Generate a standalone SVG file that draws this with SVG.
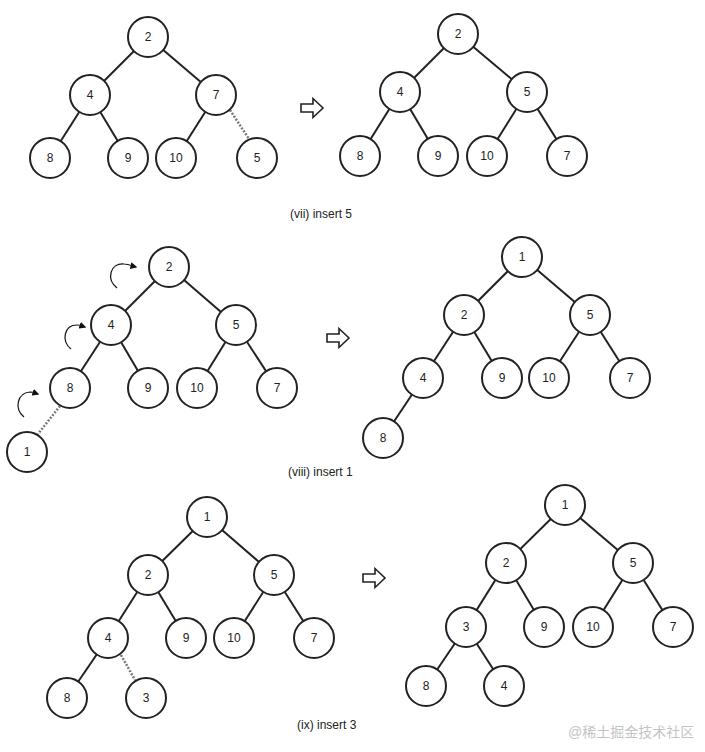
<svg xmlns="http://www.w3.org/2000/svg" width="705" height="752" viewBox="0 0 705 752">
<style>
.n circle{fill:#fff;stroke:#222;stroke-width:2}
.n text{font-family:"Liberation Sans",Arial,sans-serif;font-size:12px;fill:#222;text-anchor:middle;dominant-baseline:central}
.e line{stroke:#222;stroke-width:2}
.e line.d{stroke:#777;stroke-width:2.5;stroke-dasharray:2 1.5}
.cap{font-family:"Liberation Sans",Arial,sans-serif;font-size:12px;fill:#222}
.ha{fill:#fff;stroke:#222;stroke-width:1.6;stroke-linejoin:miter}
.ca{fill:none;stroke:#111;stroke-width:1.2}
</style>
<defs>
<marker id="ah" viewBox="0 0 10 10" refX="8" refY="5" markerWidth="7" markerHeight="7" markerUnits="userSpaceOnUse" orient="auto">
<path d="M0,0 L10,5 L0,10 z" fill="#111"/>
</marker>
<polygon id="bigarrow" points="0,-4 12,-4 12,-9.5 22,0 12,9.5 12,4 0,4"/>
</defs>
<rect width="705" height="752" fill="#fff"/>

<g id="connectors" class="e">
<!-- panel 1 left -->
<line x1="148" y1="37" x2="90" y2="95"/>
<line x1="148" y1="37" x2="216" y2="95"/>
<line x1="90" y1="95" x2="50" y2="158"/>
<line x1="90" y1="95" x2="128" y2="158"/>
<line x1="216" y1="95" x2="176" y2="158"/>
<line class="d" x1="230" y1="110" x2="249" y2="139"/>
<!-- panel 1 right -->
<line x1="458" y1="34" x2="400" y2="92"/>
<line x1="458" y1="34" x2="527" y2="92"/>
<line x1="400" y1="92" x2="360" y2="156"/>
<line x1="400" y1="92" x2="438" y2="156"/>
<line x1="527" y1="92" x2="487" y2="156"/>
<line x1="527" y1="92" x2="567" y2="156"/>
<!-- panel 2 left -->
<line x1="169" y1="267" x2="111" y2="325"/>
<line x1="169" y1="267" x2="236" y2="325"/>
<line x1="111" y1="325" x2="70" y2="388"/>
<line x1="111" y1="325" x2="148" y2="388"/>
<line x1="236" y1="325" x2="197" y2="388"/>
<line x1="236" y1="325" x2="277" y2="388"/>
<line class="d" x1="60" y1="406" x2="38" y2="434"/>
<!-- panel 2 right -->
<line x1="522" y1="257" x2="464" y2="315"/>
<line x1="522" y1="257" x2="590" y2="315"/>
<line x1="464" y1="315" x2="423" y2="378"/>
<line x1="464" y1="315" x2="502" y2="378"/>
<line x1="590" y1="315" x2="549" y2="378"/>
<line x1="590" y1="315" x2="630" y2="378"/>
<line x1="423" y1="378" x2="383" y2="438"/>
<!-- panel 3 left -->
<line x1="207" y1="517" x2="148" y2="575"/>
<line x1="207" y1="517" x2="274" y2="575"/>
<line x1="148" y1="575" x2="108" y2="638"/>
<line x1="148" y1="575" x2="186" y2="638"/>
<line x1="274" y1="575" x2="234" y2="638"/>
<line x1="274" y1="575" x2="314" y2="638"/>
<line x1="108" y1="638" x2="67" y2="698"/>
<line class="d" x1="121" y1="655" x2="135" y2="680"/>
<!-- panel 3 right -->
<line x1="565" y1="505" x2="506" y2="563"/>
<line x1="565" y1="505" x2="633" y2="563"/>
<line x1="506" y1="563" x2="466" y2="627"/>
<line x1="506" y1="563" x2="544" y2="627"/>
<line x1="633" y1="563" x2="593" y2="627"/>
<line x1="633" y1="563" x2="673" y2="627"/>
<line x1="466" y1="627" x2="426" y2="686"/>
<line x1="466" y1="627" x2="504" y2="686"/>
</g>

<!-- panel 1 left nodes -->
<g id="p1l-2" class="n"><circle cx="148" cy="37" r="20"/><text x="148" y="37">2</text></g>
<g id="p1l-4" class="n"><circle cx="90" cy="95" r="20"/><text x="90" y="95">4</text></g>
<g id="p1l-7" class="n"><circle cx="216" cy="95" r="20"/><text x="216" y="95">7</text></g>
<g id="p1l-8" class="n"><circle cx="50" cy="158" r="20"/><text x="50" y="158">8</text></g>
<g id="p1l-9" class="n"><circle cx="128" cy="158" r="20"/><text x="128" y="158">9</text></g>
<g id="p1l-10" class="n"><circle cx="176" cy="158" r="20"/><text x="176" y="158">10</text></g>
<g id="p1l-5" class="n"><circle cx="257" cy="158" r="20"/><text x="257" y="158">5</text></g>

<!-- panel 1 right nodes -->
<g id="p1r-2" class="n"><circle cx="458" cy="34" r="20"/><text x="458" y="34">2</text></g>
<g id="p1r-4" class="n"><circle cx="400" cy="92" r="20"/><text x="400" y="92">4</text></g>
<g id="p1r-5" class="n"><circle cx="527" cy="92" r="20"/><text x="527" y="92">5</text></g>
<g id="p1r-8" class="n"><circle cx="360" cy="156" r="20"/><text x="360" y="156">8</text></g>
<g id="p1r-9" class="n"><circle cx="438" cy="156" r="20"/><text x="438" y="156">9</text></g>
<g id="p1r-10" class="n"><circle cx="487" cy="156" r="20"/><text x="487" y="156">10</text></g>
<g id="p1r-7" class="n"><circle cx="567" cy="156" r="20"/><text x="567" y="156">7</text></g>

<!-- panel 2 left nodes -->
<g id="p2l-2" class="n"><circle cx="169" cy="267" r="20"/><text x="169" y="267">2</text></g>
<g id="p2l-4" class="n"><circle cx="111" cy="325" r="20"/><text x="111" y="325">4</text></g>
<g id="p2l-5" class="n"><circle cx="236" cy="325" r="20"/><text x="236" y="325">5</text></g>
<g id="p2l-8" class="n"><circle cx="70" cy="388" r="20"/><text x="70" y="388">8</text></g>
<g id="p2l-9" class="n"><circle cx="148" cy="388" r="20"/><text x="148" y="388">9</text></g>
<g id="p2l-10" class="n"><circle cx="197" cy="388" r="20"/><text x="197" y="388">10</text></g>
<g id="p2l-7" class="n"><circle cx="277" cy="388" r="20"/><text x="277" y="388">7</text></g>
<g id="p2l-1" class="n"><circle cx="27" cy="452" r="20"/><text x="27" y="452">1</text></g>

<!-- panel 2 right nodes -->
<g id="p2r-1" class="n"><circle cx="522" cy="257" r="20"/><text x="522" y="257">1</text></g>
<g id="p2r-2" class="n"><circle cx="464" cy="315" r="20"/><text x="464" y="315">2</text></g>
<g id="p2r-5" class="n"><circle cx="590" cy="315" r="20"/><text x="590" y="315">5</text></g>
<g id="p2r-4" class="n"><circle cx="423" cy="378" r="20"/><text x="423" y="378">4</text></g>
<g id="p2r-9" class="n"><circle cx="502" cy="378" r="20"/><text x="502" y="378">9</text></g>
<g id="p2r-10" class="n"><circle cx="549" cy="378" r="20"/><text x="549" y="378">10</text></g>
<g id="p2r-7" class="n"><circle cx="630" cy="378" r="20"/><text x="630" y="378">7</text></g>
<g id="p2r-8" class="n"><circle cx="383" cy="438" r="20"/><text x="383" y="438">8</text></g>

<!-- panel 3 left nodes -->
<g id="p3l-1" class="n"><circle cx="207" cy="517" r="20"/><text x="207" y="517">1</text></g>
<g id="p3l-2" class="n"><circle cx="148" cy="575" r="20"/><text x="148" y="575">2</text></g>
<g id="p3l-5" class="n"><circle cx="274" cy="575" r="20"/><text x="274" y="575">5</text></g>
<g id="p3l-4" class="n"><circle cx="108" cy="638" r="20"/><text x="108" y="638">4</text></g>
<g id="p3l-9" class="n"><circle cx="186" cy="638" r="20"/><text x="186" y="638">9</text></g>
<g id="p3l-10" class="n"><circle cx="234" cy="638" r="20"/><text x="234" y="638">10</text></g>
<g id="p3l-7" class="n"><circle cx="314" cy="638" r="20"/><text x="314" y="638">7</text></g>
<g id="p3l-8" class="n"><circle cx="67" cy="698" r="20"/><text x="67" y="698">8</text></g>
<g id="p3l-3" class="n"><circle cx="146" cy="698" r="20"/><text x="146" y="698">3</text></g>

<!-- panel 3 right nodes -->
<g id="p3r-1" class="n"><circle cx="565" cy="505" r="20"/><text x="565" y="505">1</text></g>
<g id="p3r-2" class="n"><circle cx="506" cy="563" r="20"/><text x="506" y="563">2</text></g>
<g id="p3r-5" class="n"><circle cx="633" cy="563" r="20"/><text x="633" y="563">5</text></g>
<g id="p3r-3" class="n"><circle cx="466" cy="627" r="20"/><text x="466" y="627">3</text></g>
<g id="p3r-9" class="n"><circle cx="544" cy="627" r="20"/><text x="544" y="627">9</text></g>
<g id="p3r-10" class="n"><circle cx="593" cy="627" r="20"/><text x="593" y="627">10</text></g>
<g id="p3r-7" class="n"><circle cx="673" cy="627" r="20"/><text x="673" y="627">7</text></g>
<g id="p3r-8" class="n"><circle cx="426" cy="686" r="20"/><text x="426" y="686">8</text></g>
<g id="p3r-4" class="n"><circle cx="504" cy="686" r="20"/><text x="504" y="686">4</text></g>

<!-- transition arrows -->
<g id="arrows">
<use href="#bigarrow" class="ha" x="301" y="108"/>
<use href="#bigarrow" class="ha" x="327" y="338"/>
<use href="#bigarrow" class="ha" x="363" y="578"/>
</g>

<!-- curved swap arrows -->
<g id="swaps">
<path class="ca" d="M117,288 C106,279 110,263 124,264 C129,264 132,266 136,267" marker-end="url(#ah)"/>
<path class="ca" d="M71,349 C61,341 64,325 77,325 C80,325 82,326 85,327" marker-end="url(#ah)"/>
<path class="ca" d="M24,417 C14,409 17,393 30,392 C33,392 35,393 38,394" marker-end="url(#ah)"/>
</g>

<g id="captions">
<text class="cap" x="290" y="218">(vii) insert 5</text>
<text class="cap" x="288" y="476">(viii) insert 1</text>
<text class="cap" x="297" y="729">(ix) insert 3</text>
</g>
<text x="568" y="737" style="font-family:'Liberation Sans','Noto Sans CJK SC',sans-serif;font-size:14px;fill:#c4c4c4">@稀土掘金技术社区</text>
</svg>
